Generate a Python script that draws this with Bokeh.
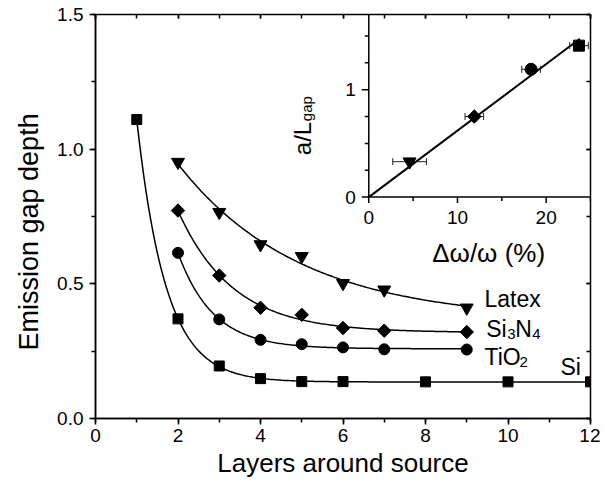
import numpy as np
from bokeh.plotting import figure
from bokeh.models import Range1d, LinearAxis, SingleIntervalTicker, NumeralTickFormatter, CustomJSTickFormatter, Title
from bokeh.core.properties import value
from bokeh.embed import file_html
from bokeh.resources import INLINE

# ---------------- data ----------------
layers_si = [1, 2, 3, 4, 5, 6, 8, 10, 12]
depth_si = [1.11, 0.37, 0.195, 0.148, 0.137, 0.137, 0.136, 0.136, 0.136]
layers_tio2 = [2, 3, 4, 5, 6, 7, 9]
depth_tio2 = [0.615, 0.368, 0.292, 0.276, 0.264, 0.257, 0.256]
layers_si3n4 = [2, 3, 4, 5, 6, 7, 9]
depth_si3n4 = [0.772, 0.531, 0.411, 0.385, 0.336, 0.326, 0.321]
layers_latex = [2, 3, 4, 5, 6, 7, 9]
depth_latex = [0.952, 0.766, 0.646, 0.602, 0.502, 0.478, 0.411]

# inset: Latex, Si3N4, TiO2, Si
inset_dw = [4.6, 11.9, 18.3, 23.7]
inset_dw_err = [1.9, 1.05, 1.05, 1.05]
inset_aL = [0.33, 0.75, 1.19, 1.41]
inset_fit_end = 23.8

inset_x_major = [0, 10, 20]
inset_x_minor = [5, 15, 25]
inset_y_major = [0, 1]
inset_y_minor = [0.25, 0.5, 0.75, 1.25, 1.5]

# ---------------- layout constants ----------------
FONT = "Liberation Sans"
FW, FH = 495, 404
XR = (0, 12)
YR = (0, 1.5)
INSET_BOX = (6.625, 12.0, 0.822, 1.5)   # in main data coords
INSET_XR = (0, 25)
INSET_YR = (0, 1.7)

p = figure(frame_width=FW, frame_height=FH, x_range=Range1d(*XR), y_range=Range1d(*YR),
           output_backend="svg", toolbar_location=None,
           min_border_left=95, min_border_right=10, min_border_top=14, min_border_bottom=70)
p.background_fill_color = "white"
p.border_fill_color = "white"
p.grid.visible = False
p.outline_line_color = "black"
p.outline_line_width = 1.5

for ax in (p.xaxis[0], p.yaxis[0]):
    ax.axis_line_width = 1.5
    ax.major_tick_line_width = 1.5
    ax.minor_tick_line_width = 1.5
    ax.major_tick_in = 0
    ax.major_tick_out = 6
    ax.minor_tick_in = 0
    ax.minor_tick_out = 4
    ax.major_label_text_font = FONT
    ax.major_label_text_font_size = "19px"
    ax.major_label_text_color = "black"
    ax.axis_label_text_font = FONT
    ax.axis_label_text_font_size = "26px"
    ax.axis_label_text_font_style = "normal"
    ax.axis_label_text_color = "black"

p.xaxis[0].ticker = SingleIntervalTicker(interval=2, num_minor_ticks=2)
p.yaxis[0].ticker = SingleIntervalTicker(interval=0.5, num_minor_ticks=2)
p.yaxis[0].formatter = NumeralTickFormatter(format="0.0")
p.xaxis[0].axis_label = "Layers around source"
p.xaxis[0].major_label_standoff = 4
p.yaxis[0].major_label_standoff = 6
p.xaxis[0].axis_label_standoff = 3

# y-axis title as a side title, placed a little below the frame centre as in the original
ytitle = Title(text="Emission gap depth", align="left", offset=68, standoff=21,
               text_font=FONT, text_font_size="27px", text_font_style="normal",
               text_color="black")
p.add_layout(ytitle, "left")

# mirror axes with inward ticks, no labels
top = LinearAxis(ticker=SingleIntervalTicker(interval=2, num_minor_ticks=2),
                 formatter=CustomJSTickFormatter(code="return ''"))
right = LinearAxis(ticker=SingleIntervalTicker(interval=0.5, num_minor_ticks=2),
                   formatter=CustomJSTickFormatter(code="return ''"))
for ax in (top, right):
    ax.axis_line_color = None
    ax.major_tick_in = 4
    ax.major_tick_out = 0
    ax.minor_tick_in = 4
    ax.minor_tick_out = 0
    ax.major_tick_line_width = 1.5
    ax.minor_tick_line_width = 1.5
    ax.major_label_standoff = 0
p.add_layout(top, "above")
p.add_layout(right, "right")


def exp_fit(xs, ys, n=200):
    xs = np.asarray(xs, float)
    ys = np.asarray(ys, float)
    best = None
    for c in np.linspace(0.05, 4.0, 1580):
        A = np.column_stack([np.ones_like(xs), np.exp(-c * xs)])
        coef = np.linalg.lstsq(A, ys, rcond=None)[0]
        sse = float(((A @ coef - ys) ** 2).sum())
        if best is None or sse < best[0]:
            best = (sse, c, coef)
    _, c, coef = best
    xe = np.linspace(xs[0], xs[-1], n)
    return xe, coef[0] + coef[1] * np.exp(-c * xe)


series = [
    (layers_si, depth_si, "square", 10, 0),
    (layers_tio2, depth_tio2, "circle", 11, 0),
    (layers_si3n4, depth_si3n4, "square", 9.5, np.pi / 4),
    (layers_latex, depth_latex, "inverted_triangle", 13, 0),
]
for xs, ys, mk, sz, ang in series:
    fx, fy = exp_fit(xs, ys)
    p.line(fx, fy, line_color="black", line_width=1.5)
    p.scatter(xs, ys, marker=mk, size=sz, angle=ang, fill_color="black", line_color="black")

# ---------------- series labels ----------------
lab_x = [9.43, 9.47, 9.43, 11.27]
lab_y = [0.442, 0.334, 0.229, 0.19]
TS = "23px"
SS = "15px"


def txt(x, y, t, size, xo=0, yo=0, align="left", baseline="alphabetic", angle=0, **kw):
    p.text([x], [y], text=[t], text_font=value(FONT), text_font_size=value(size),
           text_color="black", text_align=align, text_baseline=baseline,
           x_offset=xo, y_offset=yo, angle=angle, **kw)


txt(lab_x[0], lab_y[0], "Latex", TS)
txt(lab_x[1], lab_y[1], "Si", TS)
txt(lab_x[1], lab_y[1], "3", SS, xo=21, yo=5)
txt(lab_x[1], lab_y[1], "N", TS, xo=29)
txt(lab_x[1], lab_y[1], "4", SS, xo=46, yo=5)
txt(lab_x[2], lab_y[2], "TiO", TS)
txt(lab_x[2], lab_y[2], "2", SS, xo=35, yo=5)
txt(lab_x[3], lab_y[3], "Si", TS)

# ---------------- inset (own ranges mapped into main frame) ----------------
bx0, bx1, by0, by1 = INSET_BOX
sx = (INSET_XR[1] - INSET_XR[0]) / (bx1 - bx0)
sy = (INSET_YR[1] - INSET_YR[0]) / (by1 - by0)
p.extra_x_ranges = {"ix": Range1d(INSET_XR[0] + (XR[0] - bx0) * sx, INSET_XR[0] + (XR[1] - bx0) * sx)}
p.extra_y_ranges = {"iy": Range1d(INSET_YR[0] + (YR[0] - by0) * sy, INSET_YR[0] + (YR[1] - by0) * sy)}
ux = (XR[1] - XR[0]) * sx / FW
uy = (YR[1] - YR[0]) * sy / FH
R = dict(x_range_name="ix", y_range_name="iy")

# spines
p.segment(x0=[INSET_XR[0], INSET_XR[0]], y0=[INSET_YR[0], INSET_YR[0]],
          x1=[INSET_XR[0], INSET_XR[1]], y1=[INSET_YR[1], INSET_YR[0]],
          line_color="black", line_width=1.5, **R)
# ticks
yt = inset_y_major + inset_y_minor
ylen = [7] * len(inset_y_major) + [4] * len(inset_y_minor)
p.segment(x0=[0] * len(yt), y0=yt, x1=[-l * ux for l in ylen], y1=yt,
          line_color="black", line_width=1.5, **R)
xt = inset_x_major + inset_x_minor
xlen = [6] * len(inset_x_major) + [4] * len(inset_x_minor)
p.segment(x0=xt, y0=[0] * len(xt), x1=xt, y1=[-l * uy for l in xlen],
          line_color="black", line_width=1.5, **R)
# tick labels
p.text(x=[0] * len(inset_y_major), y=inset_y_major, text=[str(v) for v in inset_y_major],
       text_font=value(FONT), text_font_size=value("19px"), text_color="black",
       text_align="right", text_baseline="middle", x_offset=-13, **R)
p.text(x=inset_x_major, y=[0] * len(inset_x_major), text=[str(v) for v in inset_x_major],
       text_font=value(FONT), text_font_size=value("19px"), text_color="black",
       text_align="center", text_baseline="top", y_offset=14, **R)
# axis titles
p.text(x=[12.5], y=[0], text=["\u0394\u03c9/\u03c9 (%)"], text_font=value(FONT),
       text_font_size=value("26px"), text_color="black", text_align="center",
       text_baseline="middle", x_offset=9, y_offset=56, **R)
p.text(x=[0], y=[0.39], text=["a/L"], text_font=value(FONT), text_font_size=value("24px"),
       text_color="black", text_align="left", text_baseline="alphabetic",
       angle=np.pi / 2, x_offset=-66, **R)
p.text(x=[0], y=[0.39], text=["gap"], text_font=value(FONT), text_font_size=value("15px"),
       text_color="black", text_align="left", text_baseline="alphabetic",
       angle=np.pi / 2, x_offset=-62, y_offset=-34, **R)

# fit line through origin (least squares from the inset points)
dw = np.asarray(inset_dw)
aL = np.asarray(inset_aL)
slope = float((dw * aL).sum() / (dw * dw).sum())
p.line([0, inset_fit_end], [0, slope * inset_fit_end], line_color="black", line_width=2, **R)

# error bars
lo = [d - e for d, e in zip(inset_dw, inset_dw_err)]
hi = [d + e for d, e in zip(inset_dw, inset_dw_err)]
p.segment(x0=lo, y0=inset_aL, x1=hi, y1=inset_aL, line_color="#222222", line_width=1, **R)
p.scatter(lo + hi, inset_aL + inset_aL, marker="dash", angle=np.pi / 2, size=7,
          line_color="#222222", line_width=1, **R)

inset_markers = ["inverted_triangle", "square", "circle", "square"]
inset_sizes = [13, 9.5, 12, 11]
inset_angles = [0, np.pi / 4, 0, 0]
for i in range(len(inset_dw)):
    p.scatter([inset_dw[i]], [inset_aL[i]], marker=inset_markers[i], size=inset_sizes[i],
              angle=inset_angles[i], fill_color="black", line_color="black", **R)

open("out.html", "w").write(file_html(p, INLINE))
